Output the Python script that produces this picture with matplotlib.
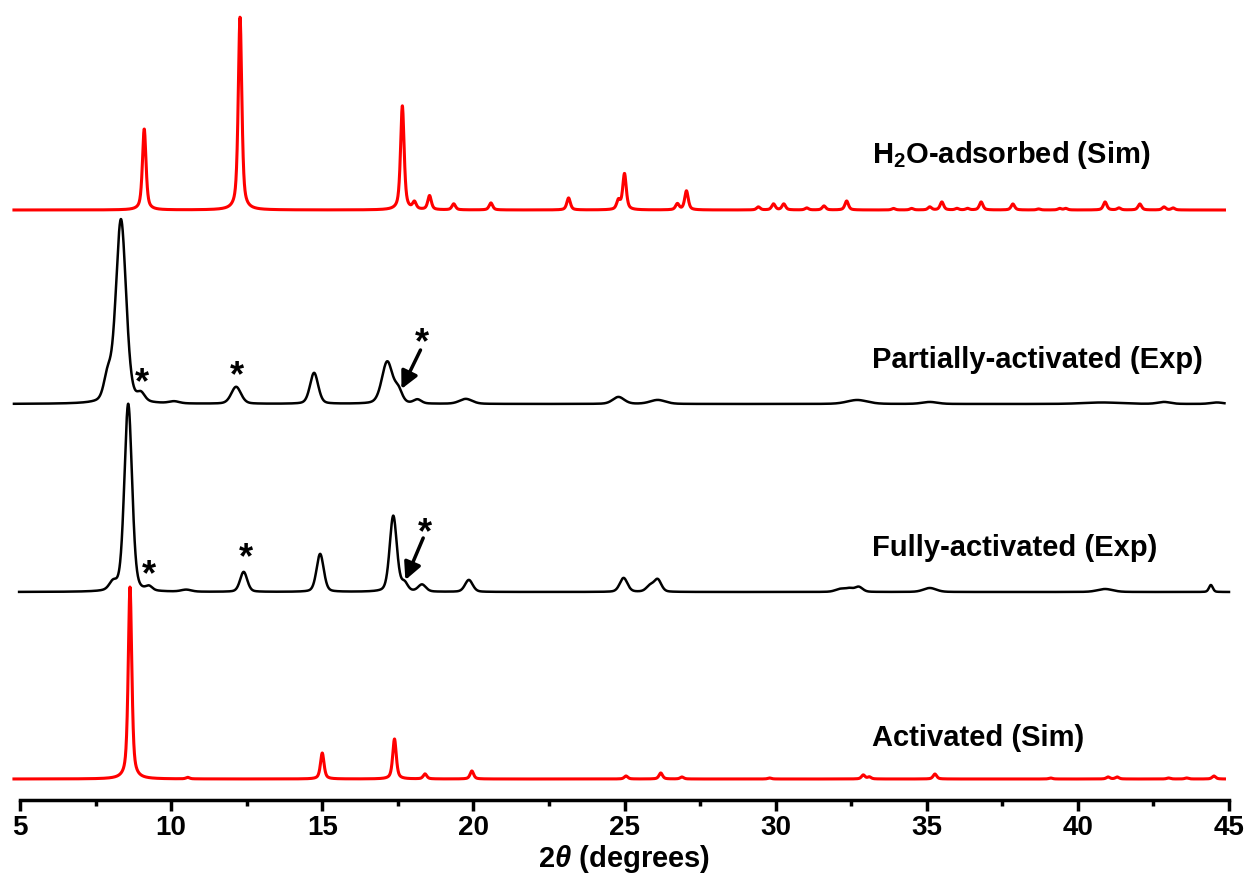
import numpy as np
import matplotlib
matplotlib.use("Agg")
import matplotlib.pyplot as plt
from matplotlib.ticker import MultipleLocator

plt.rcParams['font.family'] = ['Liberation Sans', 'DejaVu Sans']
plt.rcParams['font.weight'] = 'bold'
plt.rcParams['mathtext.fontset'] = 'custom'
plt.rcParams['mathtext.rm'] = 'Liberation Sans:bold'
plt.rcParams['mathtext.it'] = 'Liberation Sans:italic:bold'
plt.rcParams['mathtext.bf'] = 'Liberation Sans:bold'

# Peak lists: position (2theta), height (a.u.), FWHM (deg)
h2o_pos = [9.11, 12.28, 17.65, 18.05, 18.55, 19.35, 20.58, 23.15, 24.80, 25.00,
           26.75, 27.05, 29.43, 29.93, 30.27, 31.03, 31.60, 32.35, 33.90, 34.50,
           35.10, 35.50, 36.00, 36.35, 36.80, 37.85, 38.70, 39.40, 39.60, 40.90,
           41.36, 42.05, 42.85, 43.15]
h2o_int = [81, 193, 104, 7, 14, 6, 7, 12, 9, 36,
           6, 19, 3, 6, 6, 2, 4, 9, 1.5, 1.5,
           3, 8, 1.5, 1.5, 8, 6, 1, 1.5, 1.5, 8,
           2, 6, 3, 2]

part_pos = [7.90, 8.34, 9.00, 10.10, 12.15, 14.73, 17.15, 17.52, 18.15, 19.75,
            24.80, 26.10, 32.70, 35.10, 40.80, 42.85, 44.60]
part_int = [24, 184, 8, 2, 17, 31, 42, 12, 4, 5,
            7, 4, 4, 2, 1.5, 2, 1.5]
part_fwhm = [0.3, 0.4, 0.3, 0.4, 0.38, 0.32, 0.42, 0.3, 0.3, 0.5,
             0.45, 0.6, 0.8, 0.6, 1.5, 0.5, 0.5]

full_pos = [8.08, 8.58, 9.27, 10.50, 12.40, 14.93, 17.35, 17.72, 18.30, 19.85,
            24.97, 25.85, 26.10, 32.15, 32.45, 32.75, 35.10, 40.90, 44.40]
full_int = [8, 188, 4, 2, 20, 38, 76, 8, 7, 12,
            14, 6, 12, 3, 3, 5, 4, 3, 7]
full_fwhm = [0.3, 0.3, 0.25, 0.4, 0.28, 0.28, 0.28, 0.25, 0.3, 0.3,
             0.3, 0.3, 0.28, 0.4, 0.3, 0.3, 0.5, 0.6, 0.15]

act_pos = [8.64, 10.55, 15.00, 17.39, 18.40, 19.95, 25.05, 26.20, 26.90, 29.80,
           32.90, 33.10, 35.27, 39.10, 41.00, 41.30, 43.00, 43.60, 44.50]
act_int = [192, 1.5, 26, 40, 5, 8, 3, 6, 2, 1,
           4, 2, 5, 1, 2, 2, 1, 1, 3]

# vertical offsets of the stacked patterns
offsets = {'h2o': 590, 'part': 396, 'full': 208, 'act': 21}

labels = ['H$_2$O-adsorbed (Sim)', 'Partially-activated (Exp)',
          'Fully-activated (Exp)', 'Activated (Sim)']
label_y = [645, 440, 252, 62]


def pattern(x, pos, inten, fwhm, eta=0.6):
    y = np.zeros_like(x)
    if np.isscalar(fwhm):
        fwhm = [fwhm] * len(pos)
    for p, h, w in zip(pos, inten, fwhm):
        g = 0.5 * w
        lor = g ** 2 / ((x - p) ** 2 + g ** 2)
        gau = np.exp(-4 * np.log(2) * (x - p) ** 2 / w ** 2)
        y += h * (eta * lor + (1 - eta) * gau)
    return y


x = np.linspace(4.8, 44.85, 6000)
x_full = np.linspace(4.97, 45.0, 6000)

fig = plt.figure(figsize=(12.49, 8.76), dpi=100)
ax = fig.add_axes([20 / 1249, 76 / 876, 1209 / 1249, 800 / 876])

ax.plot(x, offsets['h2o'] + pattern(x, h2o_pos, h2o_int, 0.14),
        color='#ff0000', lw=2.2, clip_on=False)
ax.plot(x, offsets['part'] + pattern(x, part_pos, part_int, part_fwhm, eta=0.3),
        color='black', lw=1.8, clip_on=False)
ax.plot(x_full, offsets['full'] + pattern(x_full, full_pos, full_int, full_fwhm, eta=0.3),
        color='black', lw=1.8, clip_on=False)
ax.plot(x, offsets['act'] + pattern(x, act_pos, act_int, 0.14),
        color='#ff0000', lw=2.2, clip_on=False)

for lab, ly in zip(labels, label_y):
    ax.text(33.2, ly, lab, fontsize=21, fontweight='bold', ha='left', va='center')

# impurity marks
stars = [(9.04, 416), (12.19, 423), (9.27, 224), (12.48, 241)]
for sx, sy in stars:
    ax.text(sx, sy, '*', fontsize=26, fontweight='bold', ha='center', va='center')

arrows = [((18.25, 450), (17.62, 411), (18.31, 456)),
          ((18.34, 262), (17.75, 220), (18.41, 266))]
for start, end, star in arrows:
    ax.annotate('', xy=end, xytext=start,
                arrowprops=dict(arrowstyle='-|>', color='black', lw=2.5,
                                mutation_scale=26, shrinkA=0, shrinkB=0))
    ax.text(star[0], star[1], '*', fontsize=26, fontweight='bold',
            ha='center', va='center')

ax.set_xlim(5, 45)
ax.set_ylim(0, 800)
for s in ['left', 'right', 'top']:
    ax.spines[s].set_visible(False)
ax.spines['bottom'].set_linewidth(2.5)
ax.set_yticks([])
ax.xaxis.set_major_locator(MultipleLocator(5))
ax.xaxis.set_minor_locator(MultipleLocator(2.5))
ax.tick_params(axis='x', which='major', direction='out', length=8, width=2.5,
               labelsize=20, pad=3)
ax.tick_params(axis='x', which='minor', direction='out', length=4, width=2.5)
for t in ax.get_xticklabels():
    t.set_fontweight('bold')
ax.set_xlabel(r'2$\it{\theta}$ (degrees)', fontsize=21, fontweight='bold', labelpad=1)

fig.savefig('out.png', dpi=100)
